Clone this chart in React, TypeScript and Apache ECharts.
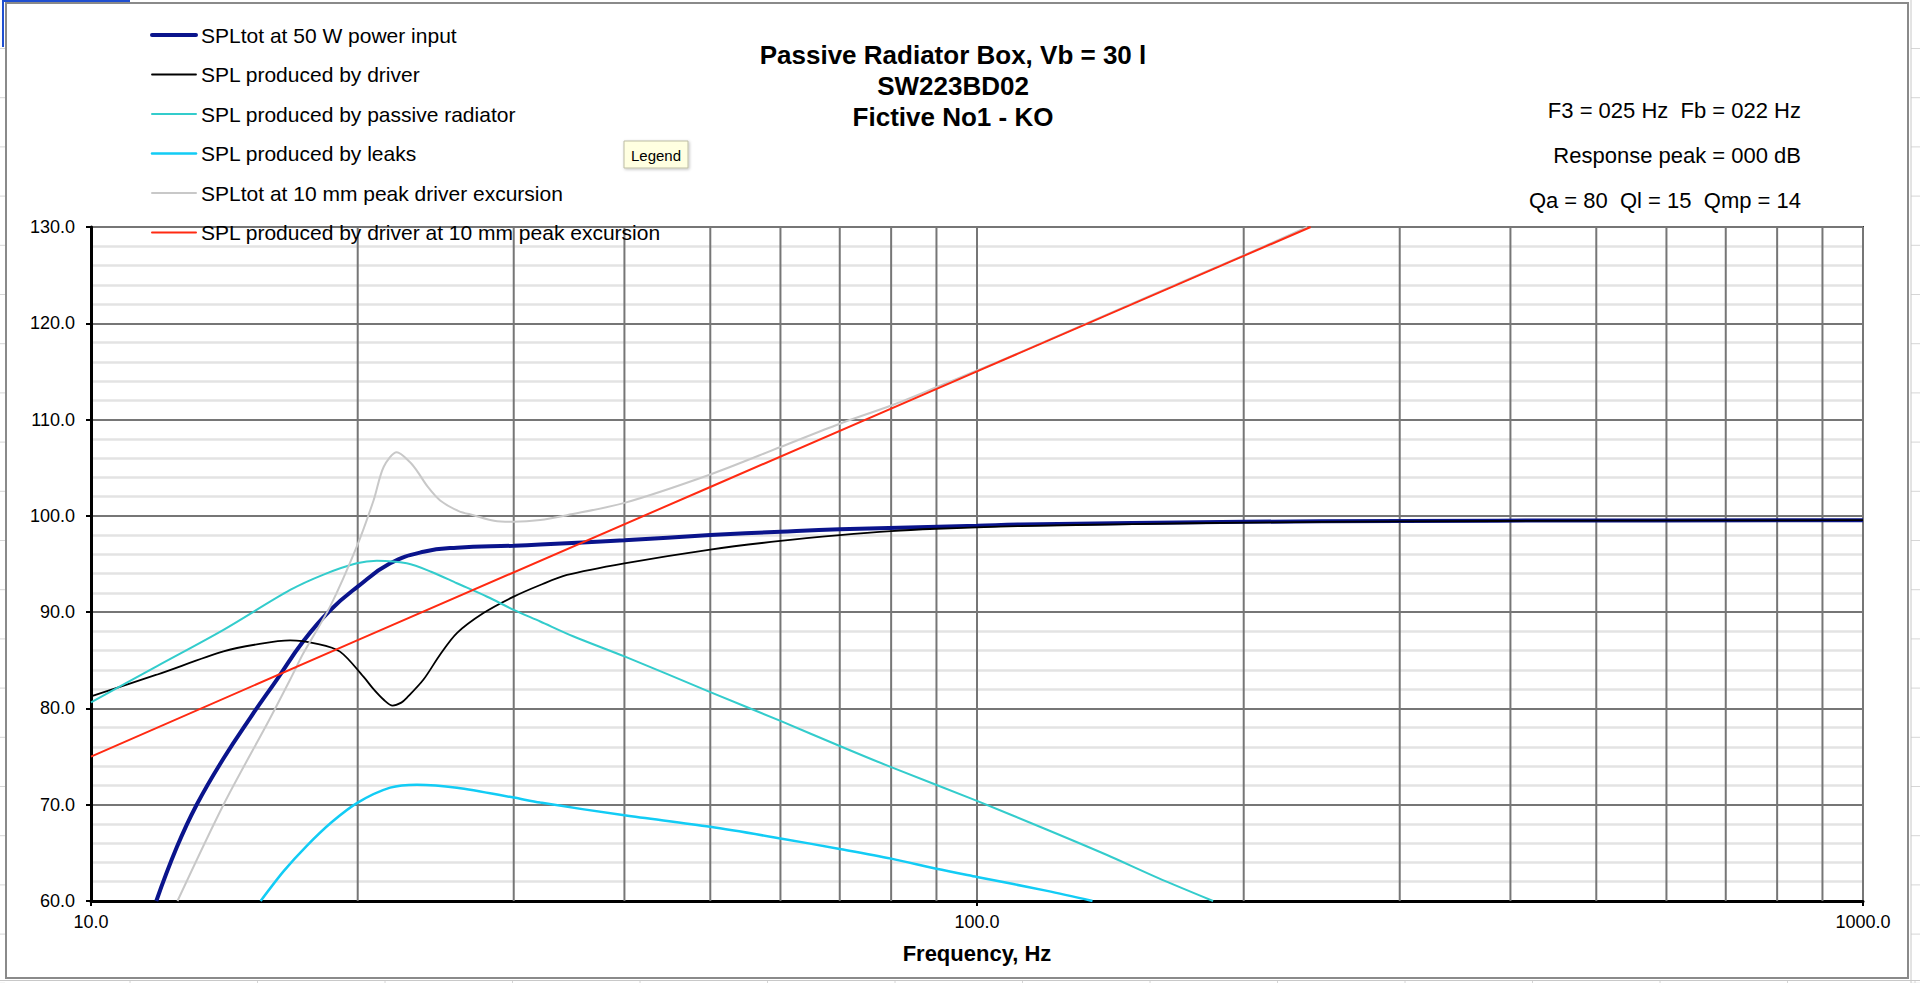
import React, { useEffect, useRef } from "react";
import * as echarts from "echarts";

// ---------- data ----------
const seriesNames = [
  "SPLtot at 50 W power input",
  "SPL produced by driver",
  "SPL produced by passive radiator",
  "SPL produced by leaks",
  "SPLtot at 10 mm peak driver excursion",
  "SPL produced by driver at 10 mm peak excursion",
];

const splTot50W: [number, number][] = [
  [11.85, 60.0], [12.5, 65.6], [13.16, 70.0], [14.11, 74.8], [15.12, 79.0],
  [16.21, 83.0], [17.37, 87.0], [18.62, 90.2], [20.0, 92.65], [21.76, 95.07],
  [23.73, 96.27], [25.88, 96.7], [30.0, 96.9], [32.14, 97.02], [40.0, 97.46],
  [50.0, 98.0], [60.0, 98.35], [70.0, 98.6], [100.0, 98.97], [112.0, 99.1],
  [200.0, 99.38], [300.0, 99.47], [500.0, 99.52], [1000.0, 99.55],
];

const splDriver: [number, number][] = [
  [10.0, 81.26], [11.86, 83.5], [14.11, 85.92], [15.5, 86.7], [16.78, 87.06],
  [18.0, 86.7], [19.1, 85.9], [20.3, 83.3], [20.84, 82.0], [21.4, 80.9],
  [21.9, 80.3], [22.4, 80.6], [22.72, 81.1], [23.73, 83.0], [24.78, 85.6],
  [25.88, 87.82], [27.73, 89.9], [30.0, 91.61], [32.14, 92.82], [34.45, 93.86],
  [40.0, 95.07], [50.0, 96.5], [60.0, 97.4], [70.0, 98.0], [80.0, 98.42],
  [90.0, 98.66], [100.0, 98.8], [112.0, 98.94], [150.0, 99.15], [200.0, 99.3],
  [300.0, 99.42], [500.0, 99.5], [1000.0, 99.55],
];

const splPassiveRadiator: [number, number][] = [
  [10.0, 80.64], [11.86, 84.37], [14.11, 88.16], [16.78, 92.3], [18.3, 93.9],
  [19.95, 95.07], [21.02, 95.34], [22.72, 95.07], [24.2, 94.2], [25.88, 93.0],
  [28.0, 91.6], [30.0, 90.24], [32.14, 89.03], [35.0, 87.5], [40.0, 85.4],
  [50.0, 81.7], [60.0, 78.7], [70.0, 76.1], [80.0, 73.9], [100.0, 70.4],
  [120.0, 67.4], [140.0, 64.8], [160.0, 62.4], [184.7, 60.0],
];

const splLeaks: [number, number][] = [
  [15.54, 60.0], [16.5, 63.1], [17.52, 65.73], [18.7, 68.2], [20.0, 70.22],
  [21.76, 71.77], [23.32, 72.08], [25.88, 71.77], [30.0, 70.74], [32.14, 70.22],
  [40.0, 68.9], [50.0, 67.7], [60.0, 66.5], [70.0, 65.4], [80.0, 64.4],
  [90.0, 63.35], [100.0, 62.5], [120.0, 61.05], [135.0, 60.0],
];

const splTot10mm: [number, number][] = [
  [12.52, 60.0], [14.11, 70.0], [15.9, 78.85], [16.78, 83.0], [17.37, 85.75],
  [18.62, 90.6], [19.95, 96.8], [20.84, 101.6], [21.4, 105.1], [22.14, 106.6],
  [22.9, 105.6], [23.32, 104.7], [24.0, 103.0], [24.78, 101.6], [26.0, 100.5],
  [27.02, 100.07], [28.5, 99.5], [30.0, 99.38], [32.14, 99.56], [34.45, 100.07],
  [40.0, 101.35], [50.0, 104.3], [60.0, 107.15], [70.0, 109.57], [80.0, 111.46],
  [90.0, 113.36], [100.0, 115.1], [112.0, 117.0], [150.0, 122.1], [200.0, 127.05],
  [236.0, 130.0],
];

const splDriver10mm: [number, number][] = [
  [10.0, 75.0], [20.0, 87.1], [50.0, 103.0], [100.0, 115.0], [200.0, 127.0], [238.0, 130.0],
];

const verticalGridFreqs = [20, 30, 40, 50, 60, 70, 80, 90, 200, 300, 400, 500, 600, 700, 800, 900];
const xMin = 10;
const xMax = 1000;
const yMin = 60;
const yMax = 130;
const yInterval = 10;

const titleLines = ["Passive Radiator Box, Vb = 30 l", "SW223BD02", "Fictive No1 - KO"];
const infoLines = ["F3 = 025 Hz  Fb = 022 Hz", "Response peak = 000 dB", "Qa = 80  Ql = 15  Qmp = 14"];
const xAxisTitle = "Frequency, Hz";
const hoverLabel = "Legend";

// ---------- styles ----------
const FONT = "'Liberation Sans', Arial, Helvetica, sans-serif";
const seriesColors = ["#0a148c", "#000000", "#33cccc", "#12ccf5", "#c8c8c8", "#ff2a12"];
const seriesWidths = [4, 1.8, 2, 2.5, 2, 2];

function buildOption() {
  const dataSets = [splTot50W, splDriver, splPassiveRadiator, splLeaks, splTot10mm, splDriver10mm];
  const lines = dataSets.map((d, i) => ({
    name: seriesNames[i],
    type: "line",
    data: d,
    symbol: "none",
    showSymbol: false,
    smooth: i === 5 ? false : i === 0 ? 0.45 : 0.3,
    clip: true,
    silent: true,
    z: 3 + i,
    lineStyle: { color: seriesColors[i], width: seriesWidths[i] },
    itemStyle: { color: seriesColors[i] },
    emphasis: { disabled: true },
  }));

  const vGrid = {
    type: "custom",
    name: "vgrid",
    silent: true,
    z: 1,
    clip: false,
    data: verticalGridFreqs.map((f) => [f, yMin]),
    encode: { x: 0, y: 1 },
    renderItem: (_params: any, api: any) => {
      const f = api.value(0);
      const p1 = api.coord([f, yMax]);
      const p2 = api.coord([f, yMin]);
      return {
        type: "line",
        shape: { x1: p1[0], y1: p1[1], x2: p2[0], y2: p2[1] },
        style: { stroke: "#767676", lineWidth: 2 },
      };
    },
  };

  // decorative spreadsheet grid outside the chart frame
  const sheetLines: any[] = [];
  for (let k = 0; k < 20; k++) {
    const y = 48.5 + 49.2 * k;
    sheetLines.push({ type: "line", shape: { x1: 1911, y1: y, x2: 1920, y2: y }, style: { stroke: "#d6d6d6", lineWidth: 1 } });
    sheetLines.push({ type: "line", shape: { x1: 0, y1: y, x2: 5, y2: y }, style: { stroke: "#d6d6d6", lineWidth: 1 } });
  }
  for (let k = 0; k < 15; k++) {
    const x = 130 + 127.5 * k;
    sheetLines.push({ type: "line", shape: { x1: x, y1: 980, x2: x, y2: 983 }, style: { stroke: "#d6d6d6", lineWidth: 1 } });
  }

  // legend drawn as line samples + texts
  const legendItems: any[] = [];
  seriesNames.forEach((name, i) => {
    const cy = 35 + 39.5 * i;
    legendItems.push({
      type: "line",
      z: 40,
      shape: { x1: 152, y1: cy, x2: 196, y2: cy },
      style: { stroke: seriesColors[i], lineWidth: seriesWidths[i], lineCap: "round" },
    });
    legendItems.push({
      type: "text",
      x: 201,
      y: cy,
      z: 40,
      style: {
        text: name, fill: "#000", fontSize: 21, fontFamily: FONT,
        align: "left", verticalAlign: "middle", textAlign: "left", textVerticalAlign: "middle",
      },
    });
  });

  const graphic: any[] = [
    ...sheetLines,
    { type: "line", shape: { x1: 1911, y1: 0, x2: 1911, y2: 983 }, style: { stroke: "#c8c8c8", lineWidth: 1 } },
    { type: "line", shape: { x1: 0, y1: 980.5, x2: 1920, y2: 980.5 }, style: { stroke: "#c8c8c8", lineWidth: 1 } },
    { type: "rect", shape: { x: 6, y: 3, width: 1902, height: 975 }, style: { fill: "none", stroke: "#8a8a8a", lineWidth: 2 } },
    { type: "line", shape: { x1: 2, y1: 1, x2: 130, y2: 1 }, style: { stroke: "#1f4fd1", lineWidth: 2 } },
    { type: "line", shape: { x1: 3, y1: 0, x2: 3, y2: 47 }, style: { stroke: "#1f4fd1", lineWidth: 2 } },
    ...titleLines.map((t, i) => ({
      type: "text",
      x: 953,
      y: 55 + 31 * i,
      z: 20,
      style: {
        text: t, fill: "#000", fontSize: 26, fontWeight: "bold", fontFamily: FONT,
        align: "center", verticalAlign: "middle", textAlign: "center", textVerticalAlign: "middle",
      },
    })),
    ...infoLines.map((t, i) => ({
      type: "text",
      x: 1801,
      y: 110 + 45 * i,
      z: 20,
      style: {
        text: t, fill: "#000", fontSize: 22, fontFamily: FONT,
        align: "right", verticalAlign: "middle", textAlign: "right", textVerticalAlign: "middle",
      },
    })),
    ...legendItems,
    {
      type: "rect",
      z: 30,
      shape: { x: 624, y: 141, width: 64, height: 27 },
      style: { fill: "#ffffe1", stroke: "#bdbda4", lineWidth: 1, shadowBlur: 3, shadowColor: "rgba(0,0,0,0.25)", shadowOffsetX: 1, shadowOffsetY: 1 },
    },
    {
      type: "text",
      x: 656,
      y: 155,
      z: 31,
      style: {
        text: hoverLabel, fill: "#000", fontSize: 15, fontFamily: FONT,
        align: "center", verticalAlign: "middle", textAlign: "center", textVerticalAlign: "middle",
      },
    },
  ];

  return {
    animation: false,
    backgroundColor: "#ffffff",
    textStyle: { fontFamily: FONT },
    grid: {
      left: 91, right: 57, top: 227, bottom: 82,
      show: true, borderColor: "#333333", borderWidth: 2, backgroundColor: "transparent",
    },
    xAxis: {
      type: "log",
      logBase: 10,
      min: xMin,
      max: xMax,
      name: xAxisTitle,
      nameLocation: "middle",
      nameGap: 41,
      nameTextStyle: { fontFamily: FONT, fontSize: 22, fontWeight: "bold", color: "#000" },
      axisLine: { show: true, onZero: false, lineStyle: { color: "#000", width: 3 } },
      axisTick: { show: true, length: 5, lineStyle: { color: "#000", width: 2 } },
      axisLabel: {
        formatter: (v: number) => Number(v).toFixed(1),
        color: "#000", fontSize: 18, fontFamily: FONT, margin: 12, showMinLabel: true, showMaxLabel: true,
      },
      splitLine: { show: true, lineStyle: { color: "#767676", width: 2 } },
    },
    yAxis: {
      type: "value",
      min: yMin,
      max: yMax,
      interval: yInterval,
      axisLine: { show: true, lineStyle: { color: "#000", width: 3 } },
      axisTick: { show: true, length: 5, lineStyle: { color: "#000", width: 2 } },
      axisLabel: {
        formatter: (v: number) => Number(v).toFixed(1),
        color: "#000", fontSize: 18, fontFamily: FONT, margin: 16,
      },
      splitLine: { show: true, lineStyle: { color: "#767676", width: 2 } },
      minorTick: { show: false, splitNumber: 5 },
      minorSplitLine: { show: true, lineStyle: { color: "#e3e3e3", width: 2.5 } },
    },
    graphic,
    series: [vGrid, ...lines],
  };
}

export default function App() {
  const ref = useRef<HTMLDivElement>(null);
  useEffect(() => {
    document.body.style.margin = "0";
    const chart = echarts.init(ref.current as HTMLDivElement, null, { renderer: "svg" });
    chart.setOption(buildOption() as any);
    return () => chart.dispose();
  }, []);
  return (
    <div
      ref={ref}
      style={{ position: "fixed", left: 0, top: 0, width: 1920, height: 983, background: "#fff" }}
    />
  );
}
